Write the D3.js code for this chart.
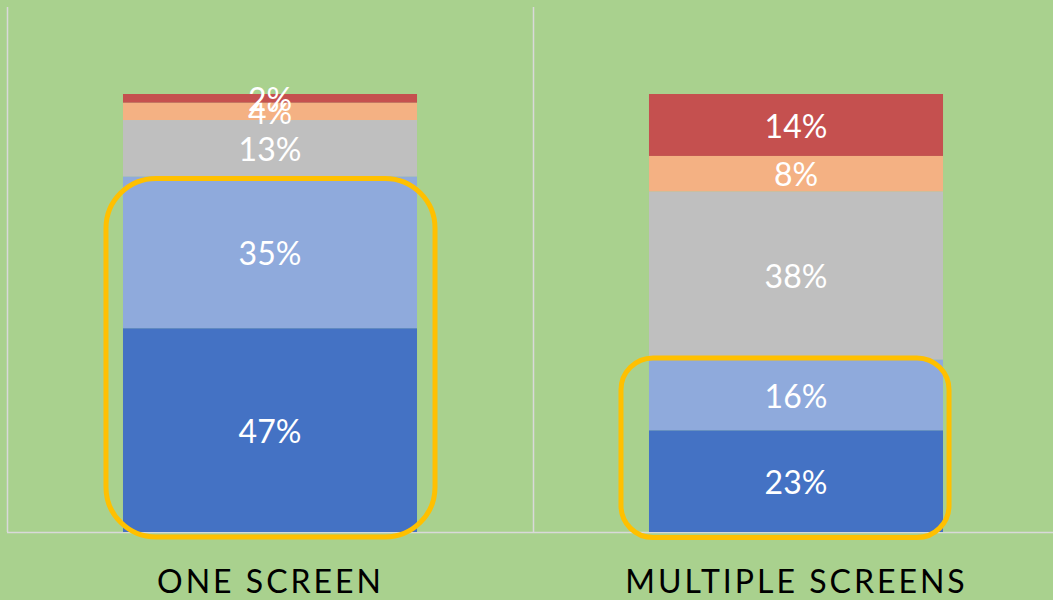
<!DOCTYPE html>
<html>
<head>
<meta charset="utf-8">
<script src="https://cdn.jsdelivr.net/npm/d3@7"></script>
<style>
  html, body { margin: 0; padding: 0; background: #a9d18e; }
  svg { display: block; }
  .rotulo { font-family: Lato, "Open Sans", sans-serif; font-size: 32px; fill: #fff; text-anchor: middle; }
  .categoria { font-family: Lato, "Open Sans", sans-serif; font-size: 32px; fill: #000; text-anchor: middle; letter-spacing: 3px; }
</style>
</head>
<body>
<svg id="grafico"></svg>
<script>
// Dados do gráfico
var categorias = ['ONE SCREEN', 'MULTIPLE SCREENS'];
var series = ['s1', 's2', 's3', 's4', 's5']; // de baixo para cima
var valoresOneScreen = [47, 35, 13, 4, 2];
var valoresMultiple = [23, 16, 38, 8, 14];
var cores = ['#4472c4', '#8faadc', '#bfbfbf', '#f4b183', '#c5504f'];
// quantas séries de baixo cada destaque amarelo envolve
var destaques = [2, 2];

var largura = 1053, altura = 600;
var svg = d3.select('#grafico')
            .attr('width', largura)
            .attr('height', altura);

// Fundo verde
svg.append('rect')
   .attr('width', largura)
   .attr('height', altura)
   .attr('fill', '#a9d18e');

// Monta a tabela para o empilhamento
var tabela = categorias.map(function(c, i) {
  var valores = i === 0 ? valoresOneScreen : valoresMultiple;
  var linha = { categoria: c };
  series.forEach(function(s, j) { linha[s] = valores[j]; });
  return linha;
});

var pilha = d3.stack()
              .keys(series)
              .offset(d3.stackOffsetExpand)(tabela);

// Escalas
var x = d3.scaleBand()
          .domain(categorias)
          .range([7, 1059])
          .padding(0);
var larguraBarra = x.bandwidth() * 0.559;
var xBarra = function(c) { return x(c) + (x.bandwidth() - larguraBarra) / 2; };

var y = d3.scaleLinear()
          .domain([0, 1])
          .range([532, 94]);

// Linhas de grade (limites das categorias) e eixo
var grade = svg.append('g');
grade.selectAll('line.vertical')
     .data(categorias)
     .enter()
     .append('line')
     .attr('x1', d => x(d) + 0.5)
     .attr('x2', d => x(d) + 0.5)
     .attr('y1', 7)
     .attr('y2', 532)
     .attr('stroke', '#d9d9d9')
     .attr('stroke-width', 1.5);
grade.append('line')
     .attr('x1', 7)
     .attr('x2', largura)
     .attr('y1', 532.5)
     .attr('y2', 532.5)
     .attr('stroke', '#d9d9d9')
     .attr('stroke-width', 1.5);

// Barras empilhadas
var camadas = svg.selectAll('.camada')
                 .data(pilha)
                 .enter()
                 .append('g')
                 .attr('fill', (d, i) => cores[i]);
camadas.selectAll('rect')
       .data(d => d)
       .enter()
       .append('rect')
       .attr('x', d => xBarra(d.data.categoria))
       .attr('y', d => y(d[1]))
       .attr('width', larguraBarra)
       .attr('height', d => y(d[0]) - y(d[1]));

// Destaques amarelos arredondados
var ajustes = [
  { esq: 17, dir: 18, sup: -2, inf: 5, raio: 50 },
  { esq: 28, dir: 6, sup: 1.5, inf: 5.5, raio: 32 }
];
categorias.forEach(function(c, i) {
  var topo = y(pilha[destaques[i] - 1][i][1]);
  var a = ajustes[i];
  svg.append('rect')
     .attr('x', xBarra(c) - a.esq)
     .attr('y', topo - a.sup)
     .attr('width', larguraBarra + a.esq + a.dir)
     .attr('height', y(0) + a.inf - topo + a.sup)
     .attr('rx', a.raio)
     .attr('ry', a.raio)
     .attr('fill', 'none')
     .attr('stroke', '#ffc000')
     .attr('stroke-width', 5);
});

// Rótulos dos valores
camadas.selectAll('text')
       .data((d, i) => d.map(p => ({ p: p, valor: p.data[series[i]] })))
       .enter()
       .append('text')
       .classed('rotulo', true)
       .attr('x', d => xBarra(d.p.data.categoria) + larguraBarra / 2)
       .attr('y', d => (y(d.p[0]) + y(d.p[1])) / 2)
       .attr('dy', '0.4em')
       .text(d => d.valor + '%');

// Rótulos das categorias
svg.selectAll('.categoria')
   .data(categorias)
   .enter()
   .append('text')
   .classed('categoria', true)
   .attr('x', d => x(d) + x.bandwidth() / 2 + 0.5)
   .attr('y', 593)
   .text(d => d);
</script>
</body>
</html>
